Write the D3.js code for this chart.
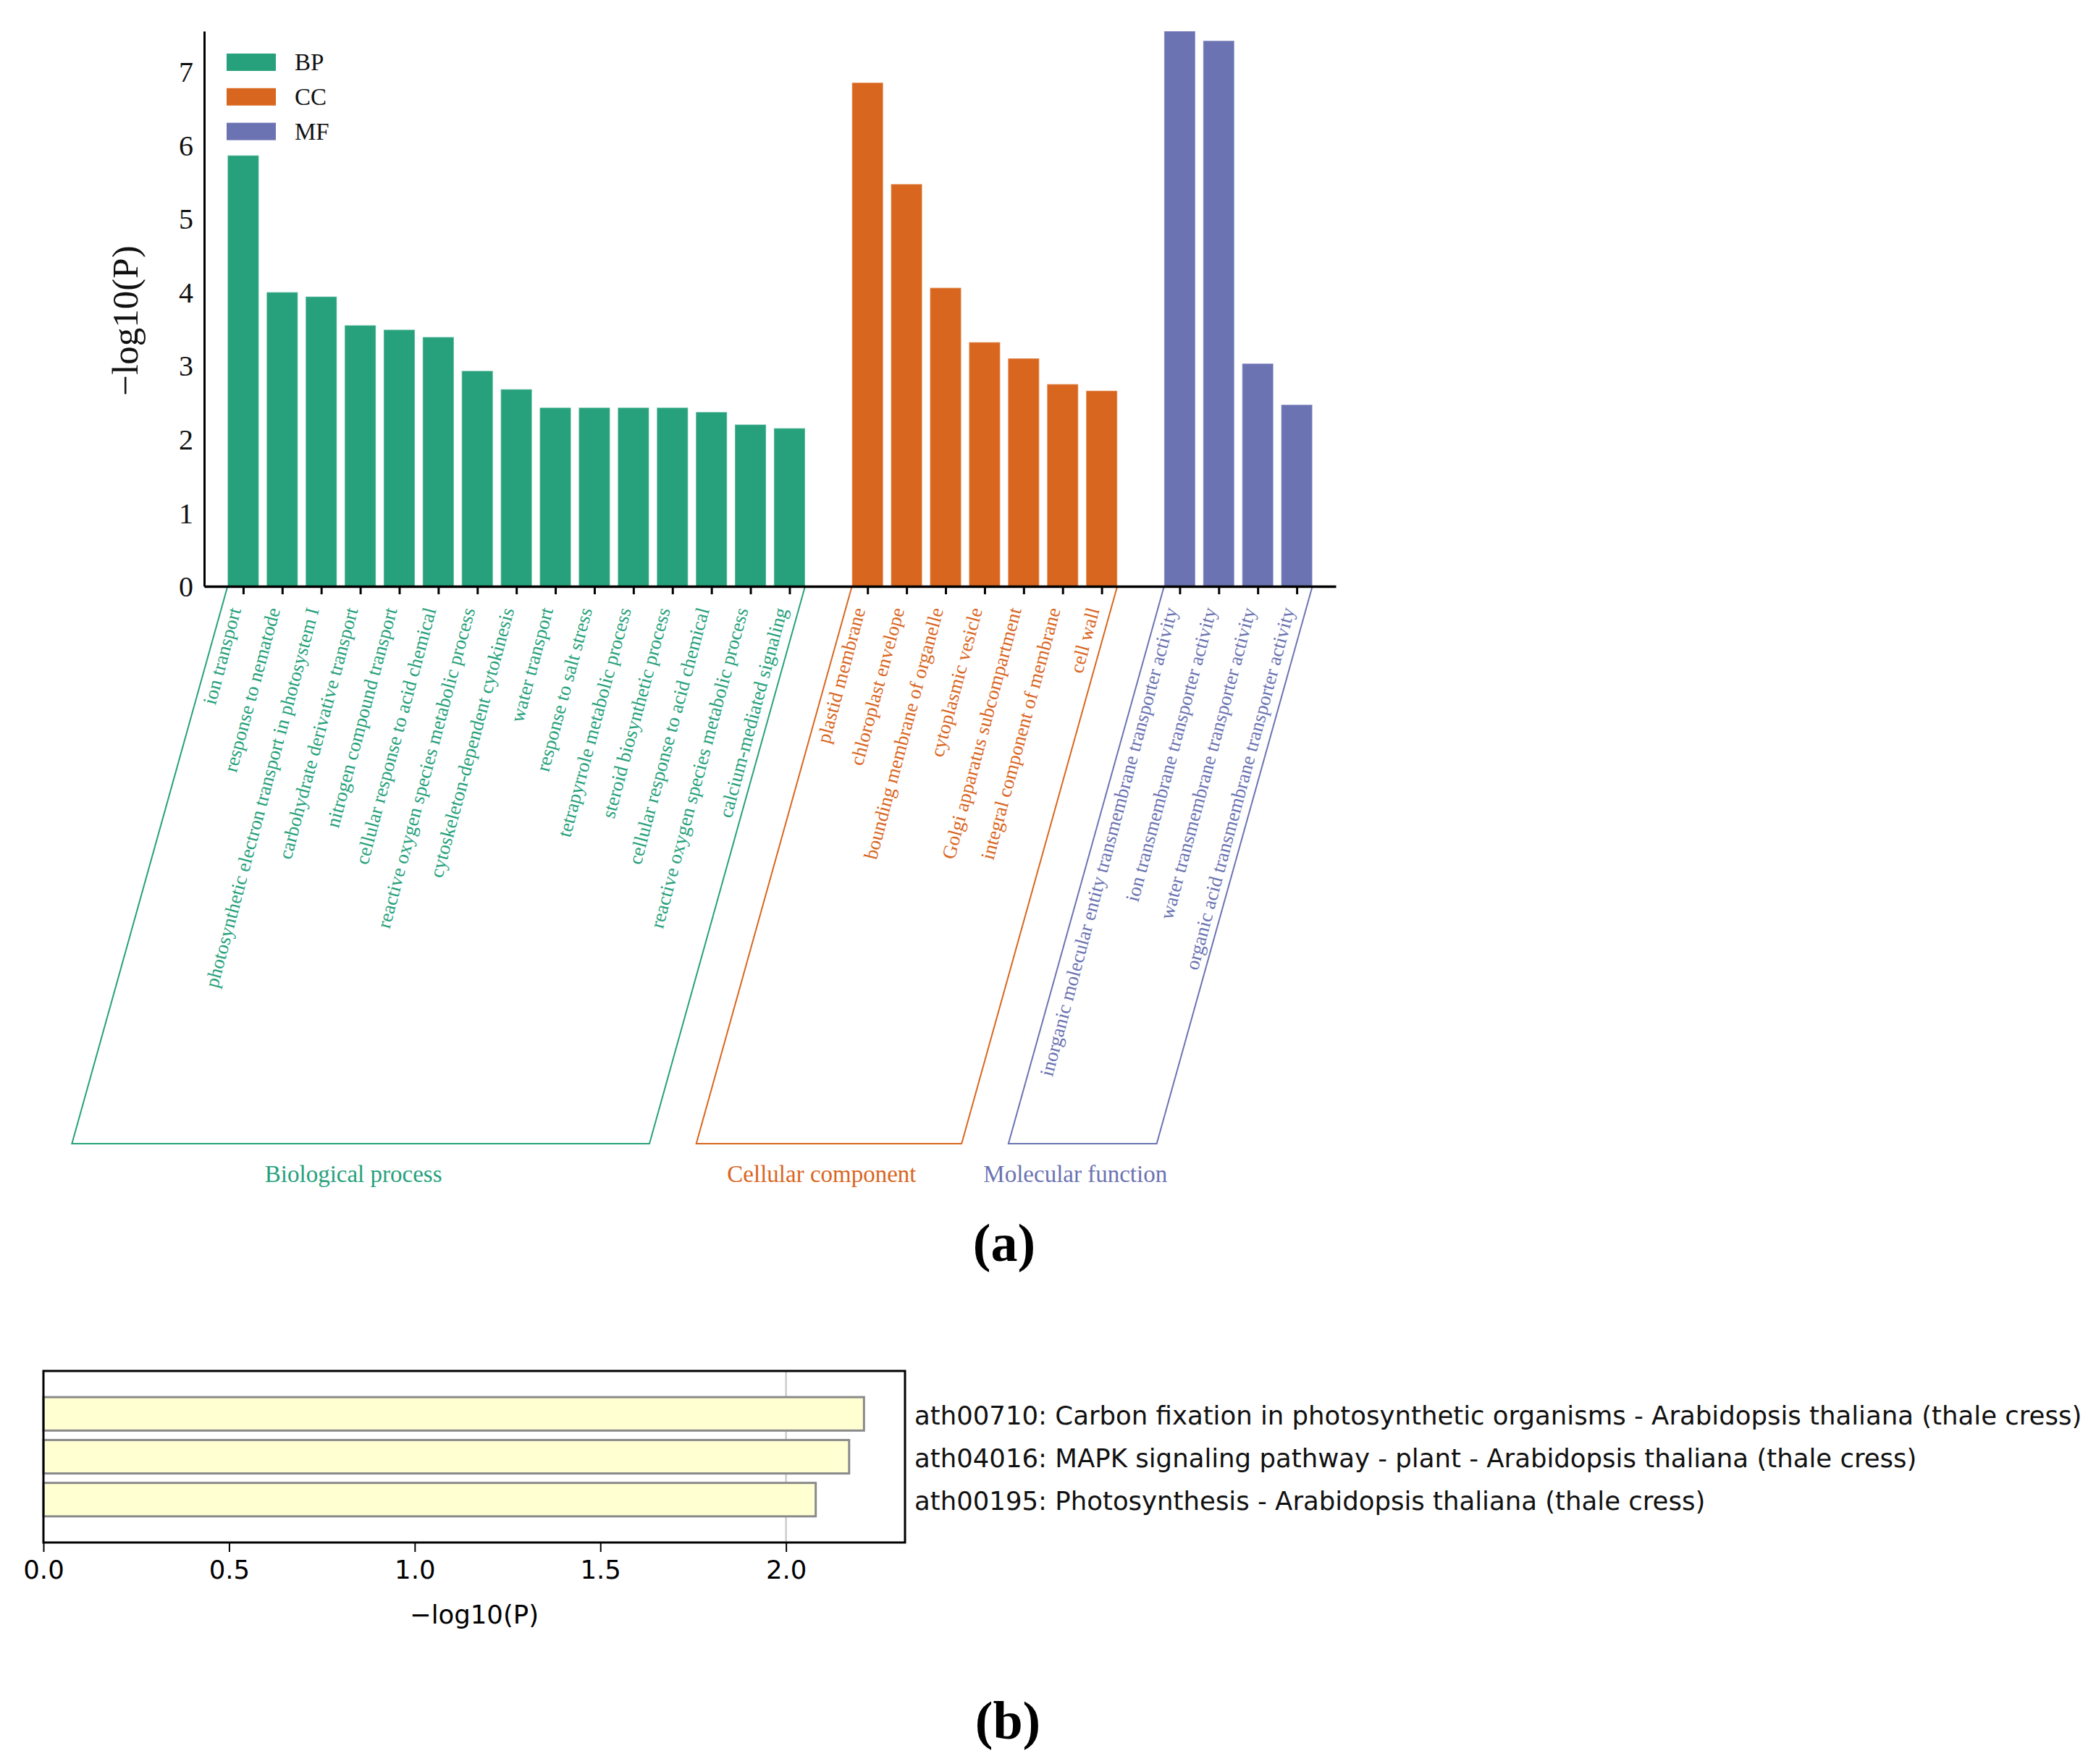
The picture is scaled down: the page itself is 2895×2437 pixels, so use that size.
<!DOCTYPE html>
<html>
<head>
<meta charset="utf-8">
<script src="https://cdn.jsdelivr.net/npm/d3@7"></script>
<style>
  body { margin: 0; background: #fff; }
  svg { display: block; }
</style>
</head>
<body>
<svg id="chart" width="2895" height="2437"></svg>
<script>
// GO terms (panel a)
const bpTerms = ["ion transport", "response to nematode", "photosynthetic electron transport in photosystem I",
  "carbohydrate derivative transport", "nitrogen compound transport", "cellular response to acid chemical",
  "reactive oxygen species metabolic process", "cytoskeleton-dependent cytokinesis", "water transport",
  "response to salt stress", "tetrapyrrole metabolic process", "steroid biosynthetic process",
  "cellular response to acid chemical", "reactive oxygen species metabolic process", "calcium-mediated signaling"];
const bpValues = [5.86, 4.00, 3.94, 3.55, 3.49, 3.39, 2.93, 2.68, 2.43, 2.43, 2.43, 2.43, 2.37, 2.20, 2.15];

const ccTerms = ["plastid membrane", "chloroplast envelope", "bounding membrane of organelle", "cytoplasmic vesicle",
  "Golgi apparatus subcompartment", "integral component of membrane", "cell wall"];
const ccValues = [6.85, 5.47, 4.06, 3.32, 3.10, 2.75, 2.66];

const mfTerms = ["inorganic molecular entity transmembrane transporter activity", "ion transmembrane transporter activity",
  "water transmembrane transporter activity", "organic acid transmembrane transporter activity"];
const mfValues = [7.55, 7.42, 3.03, 2.47];

const groupKeys = ["BP", "CC", "MF"];
const groupNames = ["Biological process", "Cellular component", "Molecular function"];
const groupColors = ["#26a17b", "#d9661f", "#6b73b2"];
const yTicks = [0, 1, 2, 3, 4, 5, 6, 7];

// KEGG (panel b)
const keggTerms = ["ath00710: Carbon fixation in photosynthetic organisms - Arabidopsis thaliana (thale cress)",
  "ath04016: MAPK signaling pathway - plant - Arabidopsis thaliana (thale cress)",
  "ath00195: Photosynthesis - Arabidopsis thaliana (thale cress)"];
const keggValues = [2.21, 2.17, 2.08];
const keggTicks = [0, 0.5, 1.0, 1.5, 2.0];

const svg = d3.select("#chart");
const serif = "'Liberation Serif', 'Times New Roman', serif";
const sans = "'DejaVu Sans', sans-serif";

// build one flat list, one empty slot between groups
const groups = [[bpTerms, bpValues], [ccTerms, ccValues], [mfTerms, mfValues]];
let rows = [], slot = 0;
groups.forEach(([terms, vals], g) => {
  terms.forEach((t, i) => rows.push({term: t, value: vals[i], g: g, slot: slot + i}));
  slot += terms.length + 1;
});
const lastSlot = rows[rows.length - 1].slot;

const x = d3.scaleLinear().domain([-1, lastSlot + 1]).range([282, 1845]);
const y = d3.scaleLinear().domain([0, d3.max(rows, d => d.value)]).range([810, 43]);
const step = x(1) - x(0);
const bw = step * 0.8;

// brackets under the labels
const slant = 215, bottomY = 1580;
groups.forEach(([terms], g) => {
  const grp = rows.filter(r => r.g === g);
  const x0 = x(grp[0].slot) - bw / 2, x1 = x(grp[grp.length - 1].slot) + bw / 2;
  const top = y(0);
  svg.append("path")
    .attr("d", d3.line()([[x0, top], [x0 - slant, bottomY], [x1 - slant, bottomY], [x1, top]]))
    .attr("fill", "none")
    .attr("stroke", groupColors[g])
    .attr("stroke-width", 2);
  svg.append("text")
    .attr("x", (x0 + x1) / 2 - slant - 10)
    .attr("y", 1633)
    .attr("text-anchor", "middle")
    .style("font-family", serif)
    .style("font-size", "33px")
    .attr("fill", groupColors[g])
    .text(groupNames[g]);
});

// bars
svg.selectAll(".bar")
  .data(rows)
  .enter()
  .append("rect")
  .classed("bar", true)
  .attr("x", d => x(d.slot) - bw / 2)
  .attr("width", bw)
  .attr("y", d => y(d.value))
  .attr("height", d => y(0) - y(d.value))
  .attr("fill", d => groupColors[d.g])
  .attr("stroke", "rgba(255,255,255,0.35)")
  .attr("stroke-width", 1.5);

// y axis
const yAxis = svg.append("g")
  .attr("transform", "translate(282,0)")
  .call(d3.axisLeft(y).tickValues(yTicks).tickFormat(d3.format("d")).tickSize(0).tickPadding(15));
yAxis.select(".domain").attr("stroke", "#000").attr("stroke-width", 3);
yAxis.selectAll("text")
  .style("font-family", serif)
  .style("font-size", "40px")
  .attr("fill", "#111")
  .attr("dy", "0.34em");

svg.append("text")
  .attr("transform", "translate(172,443) rotate(-90)")
  .attr("text-anchor", "middle")
  .attr("dy", "0.35em")
  .style("font-family", serif)
  .style("font-size", "51px")
  .attr("fill", "#111")
  .text("\u2212log10(P)");

// x axis
const xAxis = svg.append("g")
  .attr("transform", "translate(0," + y(0) + ")")
  .call(d3.axisBottom(x).tickValues(rows.map(r => r.slot))
    .tickFormat((d, i) => rows[i].term).tickSize(11).tickSizeOuter(0));
xAxis.select(".domain").attr("stroke", "#000").attr("stroke-width", 3.5);
xAxis.selectAll(".tick line").attr("stroke", "#000").attr("stroke-width", 3);
xAxis.selectAll(".tick text")
  .attr("x", -12)
  .attr("y", 30)
  .attr("dy", null)
  .attr("dominant-baseline", "central")
  .attr("text-anchor", "end")
  .attr("transform", "rotate(-75,-12,30)")
  .style("font-family", serif)
  .style("font-size", "27px")
  .attr("fill", (d, i) => groupColors[rows[i].g]);

// legend
const legend = svg.append("g").attr("transform", "translate(313,74)");
groupKeys.forEach((k, i) => {
  legend.append("rect")
    .attr("x", 0).attr("y", i * 47.8)
    .attr("width", 68).attr("height", 24)
    .attr("fill", groupColors[i]);
  legend.append("text")
    .attr("x", 94).attr("y", i * 47.8 + 23)
    .style("font-family", serif)
    .style("font-size", "33px")
    .attr("fill", "#111")
    .text(k);
});

svg.append("text")
  .attr("x", 1387).attr("y", 1742)
  .attr("text-anchor", "middle")
  .style("font-family", serif)
  .style("font-size", "74px")
  .style("font-weight", "bold")
  .text("(a)");

// panel b
const bx = d3.scaleLinear().domain([0, d3.max(keggValues) * 1.05]).range([60, 1250]);
const by = d3.scaleLinear().domain([-1, keggValues.length]).range([1894, 2131]);
const bstep = by(1) - by(0);

svg.append("line")
  .attr("x1", bx(2)).attr("x2", bx(2))
  .attr("y1", by(-1)).attr("y2", by(keggValues.length))
  .attr("stroke", "#cccccc").attr("stroke-width", 2.5);

svg.selectAll(".kbar")
  .data(keggValues)
  .enter()
  .append("rect")
  .classed("kbar", true)
  .attr("x", bx(0))
  .attr("width", d => bx(d) - bx(0))
  .attr("y", (d, i) => by(i) - bstep * 0.39)
  .attr("height", bstep * 0.78)
  .attr("fill", "#ffffd2")
  .attr("stroke", "#8a8a8a")
  .attr("stroke-width", 3);

const bAxis = svg.append("g")
  .attr("transform", "translate(0,2131)")
  .call(d3.axisBottom(bx).tickValues(keggTicks).tickFormat(d3.format(".1f")).tickSize(13).tickPadding(12));
bAxis.select(".domain").remove();
bAxis.selectAll(".tick line").attr("stroke", "#000").attr("stroke-width", 2);
bAxis.selectAll("text")
  .style("font-family", sans)
  .style("font-size", "35.5px")
  .attr("fill", "#000");

svg.append("rect")
  .attr("x", 60).attr("y", 1894)
  .attr("width", 1190).attr("height", 237)
  .attr("fill", "none")
  .attr("stroke", "#000")
  .attr("stroke-width", 3);

svg.selectAll(".klabel")
  .data(keggTerms)
  .enter()
  .append("text")
  .classed("klabel", true)
  .attr("x", 1263)
  .attr("y", (d, i) => by(i) + 2)
  .attr("dominant-baseline", "central")
  .style("font-family", sans)
  .style("font-size", "35.5px")
  .attr("fill", "#111")
  .text(d => d);

svg.append("text")
  .attr("x", 655).attr("y", 2243)
  .attr("text-anchor", "middle")
  .style("font-family", sans)
  .style("font-size", "35.5px")
  .attr("fill", "#000")
  .text("\u2212log10(P)");

svg.append("text")
  .attr("x", 1392).attr("y", 2402)
  .attr("text-anchor", "middle")
  .style("font-family", serif)
  .style("font-size", "74px")
  .style("font-weight", "bold")
  .text("(b)");
</script>
</body>
</html>
